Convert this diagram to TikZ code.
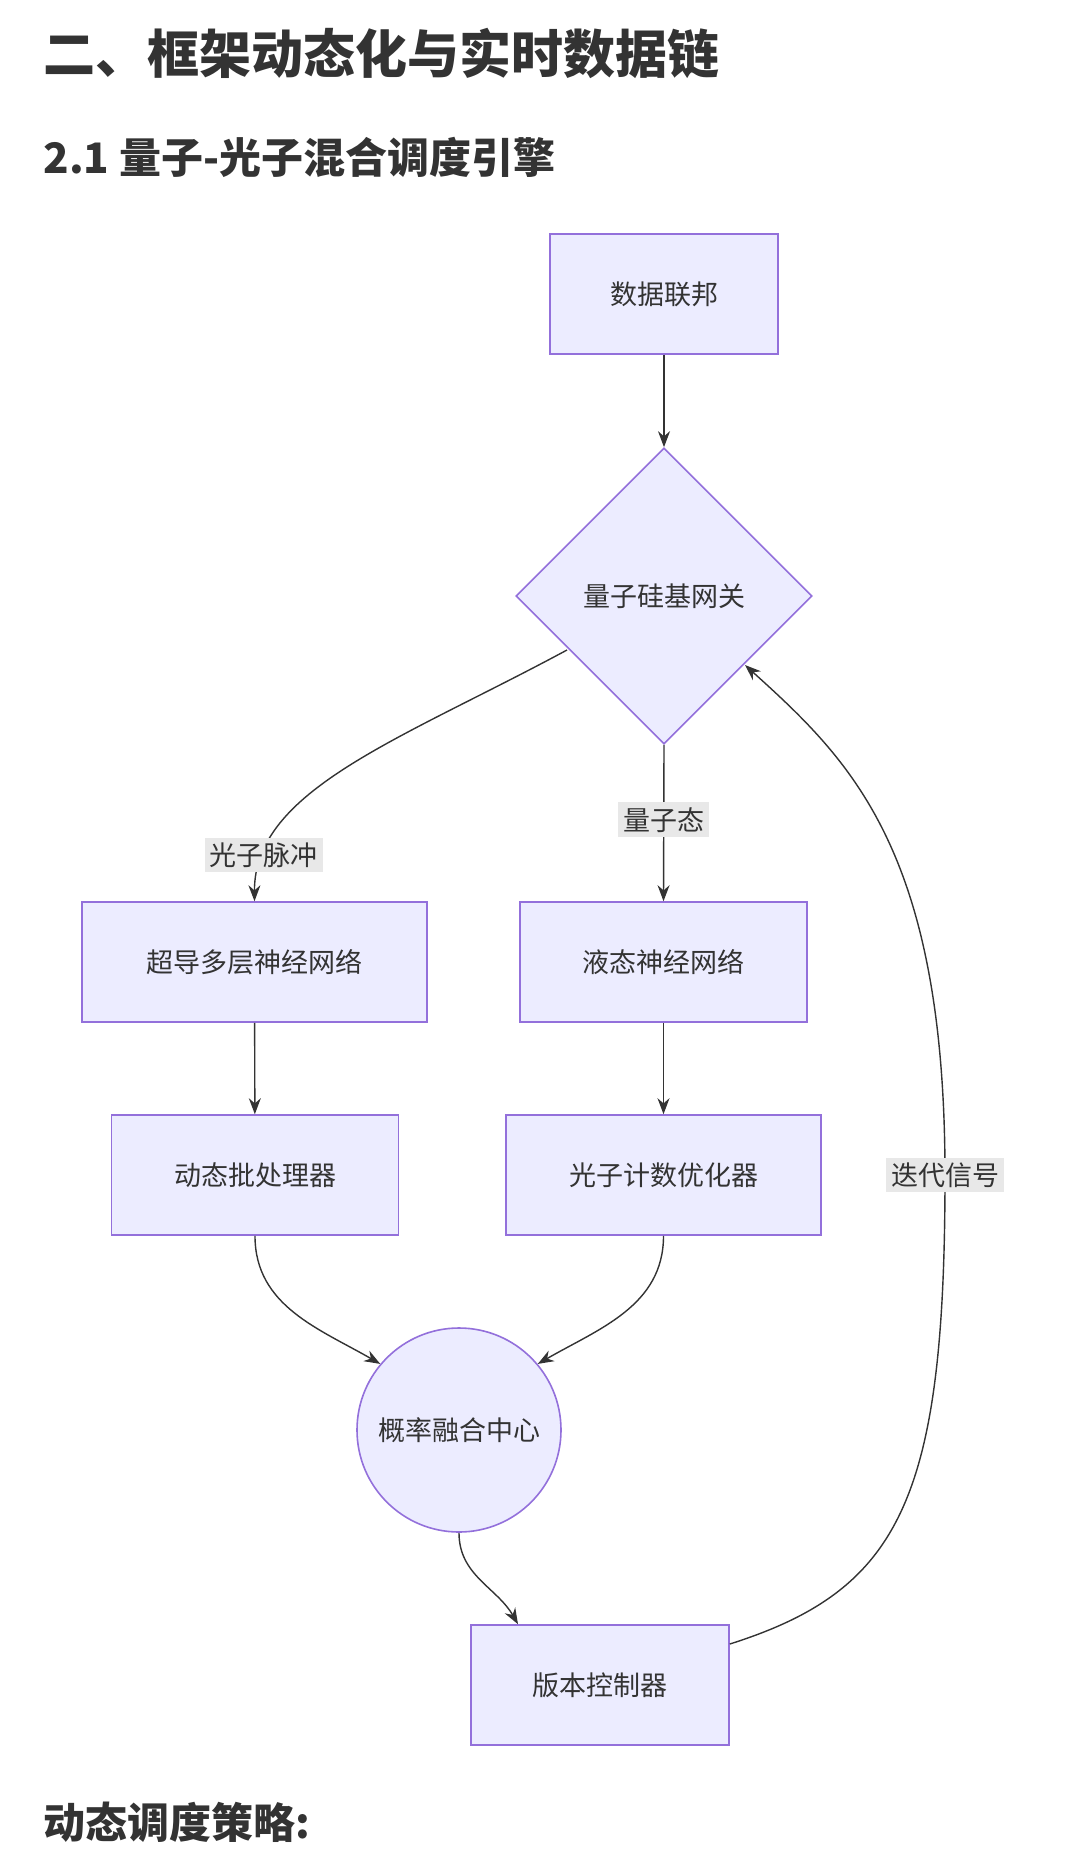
\documentclass[tikz,border=0pt]{standalone}
\usepackage{fontspec}
\setmainfont{Noto Sans CJK SC}
\usetikzlibrary{shapes.geometric,positioning,arrows.meta,calc}
\definecolor{boxfill}{HTML}{ECECFF}
\definecolor{boxline}{HTML}{9370DB}
\definecolor{lblfill}{HTML}{E8E8E8}
\definecolor{ink}{HTML}{333333}

\begin{document}
\begin{tikzpicture}[x=1pt,y=-1pt,
  box/.style={draw=boxline,fill=boxfill,line width=1.6pt,minimum height=120pt,
              font=\fontsize{27}{30}\selectfont,text=ink,inner sep=0pt},
  gate/.style={box,diamond,minimum width=296pt,minimum height=296pt,aspect=1},
  hub/.style={box,circle,minimum size=204pt},
  lbl/.style={fill=lblfill,font=\fontsize{27}{30}\selectfont,text=ink,inner sep=5pt},
  link/.style={draw=ink,line width=1.4pt,-{Stealth[length=16pt,width=12pt]}}]

\useasboundingbox (0,0) rectangle (1080,1855);

\node[anchor=west,font=\fontsize{52}{56}\selectfont\bfseries,text=ink] (title) at (40,53) {二、框架动态化与实时数据链};
\node[anchor=west,font=\fontsize{42}{46}\selectfont\bfseries,text=ink] (sub) at (40,157) {2.1 量子-光子混合调度引擎};
\node[anchor=west,font=\fontsize{42}{46}\selectfont\bfseries,text=ink] (tail) at (40,1822) {动态调度策略:};

% nodes
\node[box,minimum width=228pt] (fed) at (664,294) {数据联邦};
\node[gate] (gw) at (664,596) {量子硅基网关};
\node[box,minimum width=345pt] (scn) at (254.5,962) {超导多层神经网络};
\node[box,minimum width=287pt] (lnn) at (663.5,962) {液态神经网络};
\node[box,minimum width=287pt] (dbp) at (255,1175) {动态批处理器};
\node[box,minimum width=315pt] (pco) at (663.5,1175) {光子计数优化器};
\node[hub] (fus) at (459,1430) {概率融合中心};
\node[box,minimum width=258pt] (ver) at (600,1685) {版本控制器};

% edges
\draw[link] (fed) -- (gw);
\draw[link] (gw.south) -- (lnn.north) node[lbl,pos=0.48] {量子态};
\draw[link] (567,650) .. controls (400,740) and (254,790) .. node[lbl,pos=0.85] {光子脉冲} (scn.north);
\draw[link] (scn) -- (dbp);
\draw[link] (lnn) -- (pco);
\draw[link] (dbp.south) to[out=-90,in=150] (fus.140);
\draw[link] (pco.south) to[out=-90,in=30] (fus.40);
\draw[link] (fus.south) to[out=-90,in=120] (ver.north -| 518,0);
\coordinate (bend) at (945,1175);
\draw[link] (ver.east |- 0,1644) .. controls (900,1590) and (945,1500) .. (bend)
  node[lbl] {迭代信号}
  .. controls (945,850) and (850,760) .. (745,665);

\end{tikzpicture}
\end{document}
